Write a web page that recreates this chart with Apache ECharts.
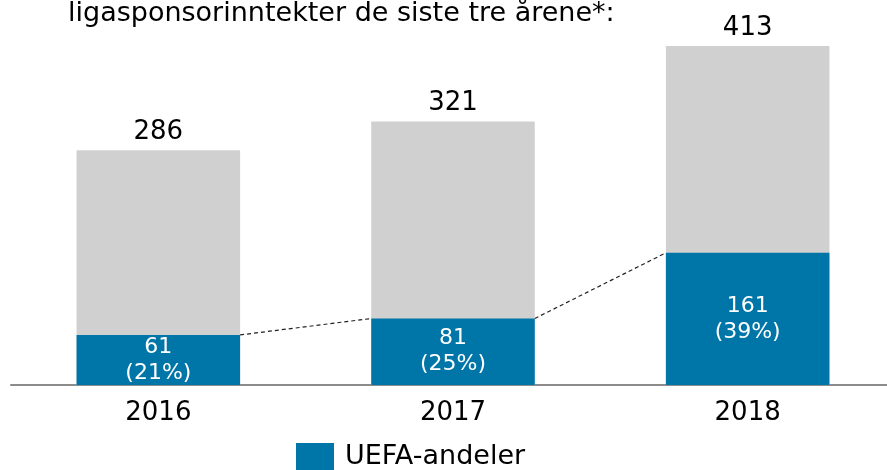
<!DOCTYPE html>
<html>
<head>
<meta charset="UTF-8">
<title>UEFA-andeler</title>
<script src="https://cdn.jsdelivr.net/npm/echarts@6/dist/echarts.min.js"></script>
<style>
  html, body { margin: 0; padding: 0; background: #fff; }
  #main { width: 887px; height: 470px; }
</style>
</head>
<body>
<div id="main"></div>
<script>
// data
var years = ['2016', '2017', '2018'];
var totals = [286, 321, 413];
var uefa = [61, 81, 161];

var blue = '#0076a8';
var grey = '#d0d0d0';
var font = 'DejaVu Sans, Verdana, sans-serif';
var barW = 0.555;

// dashed connectors between the tops of the blue bars
var links = [];
for (var i = 0; i < uefa.length - 1; i++) {
    links.push([i, uefa[i], i + 1, uefa[i + 1]]);
}

var myChart = echarts.init(document.getElementById('main'));

var option = {
    animation: false,
    title: {
        text: 'ligasponsorinntekter de siste tre årene*:',
        left: 68,
        top: 0,
        padding: 0,
        textStyle: { fontFamily: font, fontSize: 27, fontWeight: 'normal', color: '#000' }
    },
    legend: {
        data: ['UEFA-andeler'],
        left: 296,
        top: 443,
        padding: 0,
        icon: 'rect',
        itemWidth: 38,
        itemHeight: 28,
        textStyle: { fontFamily: font, fontSize: 27, color: '#000', padding: [0, 0, 0, 6] }
    },
    grid: {
        left: 11,
        right: -8,
        top: 46,
        bottom: 85,
        containLabel: false,
        outerBoundsMode: 'none'
    },
    xAxis: {
        type: 'category',
        data: years,
        axisTick: { show: false },
        axisLine: { lineStyle: { color: '#8c8c8c', width: 2 } },
        axisLabel: { fontFamily: font, fontSize: 26, color: '#000', margin: 15 }
    },
    yAxis: {
        type: 'value',
        min: 0,
        max: 413,
        show: false,
        splitLine: { show: false }
    },
    series: [
        {
            name: 'Totalt',
            type: 'bar',
            data: totals,
            barWidth: (barW * 100) + '%',
            barGap: '-100%',
            itemStyle: { color: grey },
            label: {
                show: true,
                position: 'top',
                distance: 5,
                fontFamily: font,
                fontSize: 26,
                color: '#000'
            }
        },
        {
            name: 'UEFA-andeler',
            type: 'bar',
            data: uefa,
            barWidth: (barW * 100) + '%',
            barGap: '-100%',
            itemStyle: { color: blue },
            label: {
                show: true,
                position: 'inside',
                fontFamily: font,
                fontSize: 22,
                lineHeight: 26,
                color: '#fff',
                formatter: function (p) {
                    var pct = Math.round(p.value / totals[p.dataIndex] * 100);
                    return p.value + '\n(' + pct + '%)';
                }
            }
        },
        {
            name: 'link',
            type: 'custom',
            data: links,
            encode: { x: [0, 2], y: [1, 3] },
            z: 5,
            silent: true,
            renderItem: function (params, api) {
                var a = api.coord([api.value(0), api.value(1)]);
                var b = api.coord([api.value(2), api.value(3)]);
                var half = api.size([1, 0])[0] * barW / 2;
                return {
                    type: 'line',
                    shape: { x1: a[0] + half, y1: a[1], x2: b[0] - half, y2: b[1] },
                    style: { stroke: '#222', lineWidth: 1.2, lineDash: [4, 3] }
                };
            }
        }
    ]
};

myChart.setOption(option);
</script>
</body>
</html>
